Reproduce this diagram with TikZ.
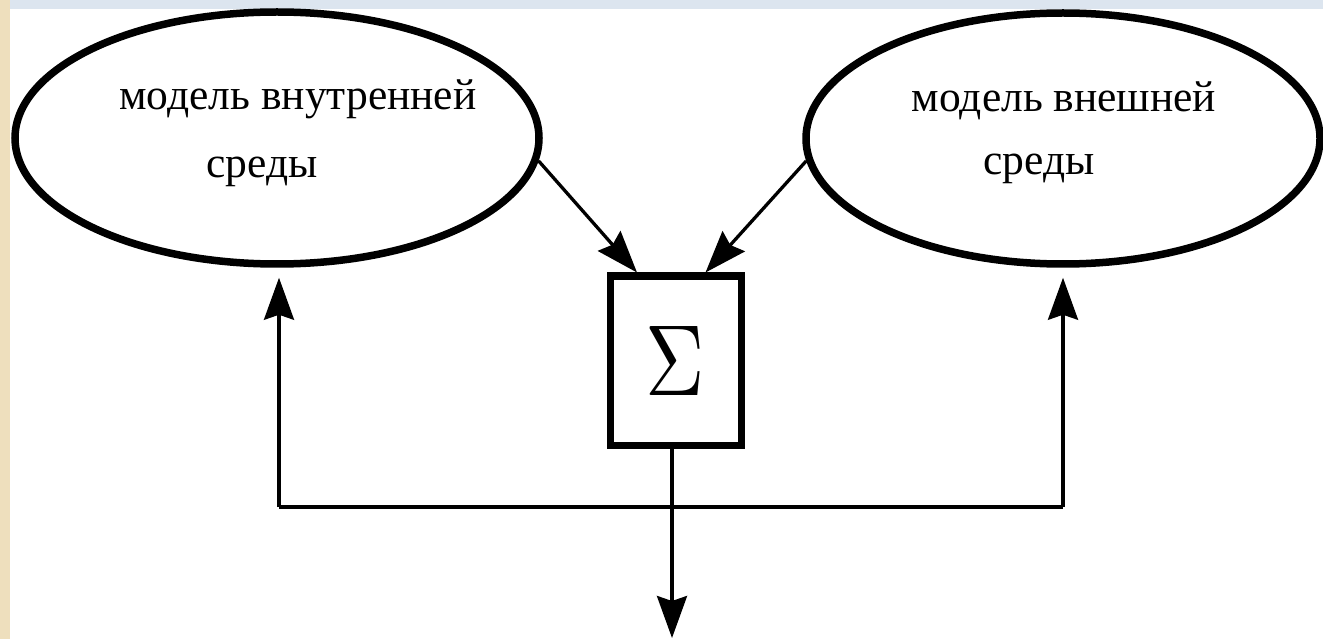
\documentclass[tikz,border=0pt]{standalone}
\usepackage{fontspec}
\setmainfont{Liberation Serif}
\usetikzlibrary{shapes.geometric,arrows.meta,calc}
\definecolor{barblue}{HTML}{DCE5EF}
\definecolor{stripbeige}{HTML}{EEDFBD}
\tikzset{
  model/.style={draw, ellipse, line width=7.5pt, inner sep=0pt},
  sumbox/.style={draw, rectangle, line width=7pt, inner sep=0pt,
    minimum width=131pt, minimum height=169pt},
  lbl/.style={anchor=base, inner sep=0pt, font=\fontsize{43.5}{50}\selectfont},
  conn/.style={line width=3.3pt, line join=miter},
  arr/.style={conn, -{Stealth[length=42pt, width=30pt, inset=5pt]}}
}
\begin{document}
\begin{tikzpicture}[x=1pt, y=-1pt]
\useasboundingbox (0,0) rectangle (1323,639);
\fill[white] (0,0) rectangle (1323,639);
\fill[stripbeige] (0,0) rectangle (10,639);
\fill[barblue] (10,0) rectangle (1323,9.5);

\node[model, minimum width=524pt, minimum height=252pt] (inner) at (277,138) {};
\node[model, minimum width=514pt, minimum height=251pt] (outer) at (1063,138.5) {};

\node[lbl] (inner1) at (298,110) {модель внутренней};
\node[lbl] (inner2) at (262,178) {среды};
\node[lbl] (outer1) at (1064,112) {модель внешней};
\node[lbl] (outer2) at (1039,175) {среды};

\node[sumbox] (sum) at (675.5,360.5) {\scalebox{8.2}[10.1]{$\Sigma$}};

\coordinate (tipA) at ($(sum.north)+(-38.5,0)$);
\coordinate (tipB) at ($(sum.north)+(30,0)$);
\draw[arr] (inner.-5.5) -- (tipA);
\draw[arr] (outer.185.9) -- (tipB);

\coordinate (fbL) at (279,507);
\coordinate (fbR) at (1063,507);
\coordinate (outTop) at ($(sum.south)+(-3.5,0)$);
\coordinate (outEnd) at (672,638);
\draw[conn] (fbL) -- (fbR);
\draw[arr] (fbL) -- ($(inner.south)+(2,10)$);
\draw[arr] (fbR) -- ($(outer.south)+(0,10)$);
\draw[arr] (outTop) -- (outEnd);
\end{tikzpicture}
\end{document}
